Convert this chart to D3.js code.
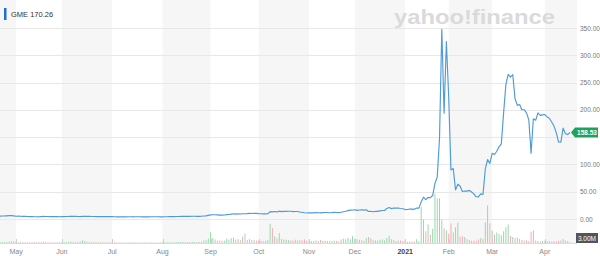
<!DOCTYPE html>
<html>
<head>
<meta charset="utf-8">
<script src="https://cdn.jsdelivr.net/npm/d3@7"></script>
<style>
body { margin: 0; background: #fff; }
text { font-family: "Liberation Sans", Arial, sans-serif; }
</style>
</head>
<body>
<script>
// GME daily chart, Apr 22 2020 - Apr 19 2021, one row per trading month.
// Labels of each month block (the first block is the end of April 2020).
var monthLabels = ["Apr", "May", "Jun", "Jul", "Aug", "Sep", "Oct", "Nov",
                   "Dec", "2021", "Feb", "Mar", "Apr"];

// Daily closes (USD)
var closes = [
    [5.33, 5.52, 5.60, 5.85, 6.10, 6.25, 5.69],
    [5.05, 5.16, 4.98, 4.86, 4.71, 4.65, 4.39, 4.29, 4.10, 4.21, 4.03, 4.39,
     4.75, 4.62, 4.50, 4.45, 4.26, 4.41, 4.52, 4.21],
    [4.34, 4.40, 4.58, 4.79, 5.10, 4.90, 4.80, 4.60, 4.45, 4.73, 4.91, 5.04,
     4.84, 4.57, 4.63, 4.44, 4.55, 4.41, 4.35, 4.30, 4.28, 4.34],
    [4.25, 4.06, 3.99, 3.92, 3.88, 3.93, 4.01, 4.13, 4.04, 3.98, 4.08, 4.17,
     4.10, 4.02, 4.06, 3.97, 3.95, 4.15, 4.08, 4.11, 4.04, 4.01],
    [4.03, 4.10, 4.19, 4.30, 4.38, 4.42, 4.49, 4.61, 4.70, 4.78, 4.69, 4.80,
     4.88, 4.96, 5.03, 4.84, 4.92, 5.07, 5.43, 5.72, 6.68],
    [7.65, 7.79, 7.73, 7.65, 7.21, 7.11, 7.31, 8.01, 8.32, 9.04, 9.71, 9.02,
     9.50, 9.13, 9.71, 9.67, 9.88, 10.19, 10.00, 10.23, 10.20],
    [9.77, 9.71, 9.36, 9.46, 9.64, 13.49, 13.01, 13.78, 13.12, 14.32, 13.42,
     13.92, 13.96, 14.26, 14.12, 13.60, 13.82, 13.82, 12.71, 12.40, 11.43,
     10.99],
    [11.10, 11.11, 11.34, 11.77, 11.37, 11.18, 11.69, 11.84, 11.99, 11.49,
     11.70, 12.03, 11.90, 11.68, 12.41, 13.33, 14.21, 15.41, 16.16, 16.56],
    [16.87, 15.80, 16.58, 16.90, 16.35, 16.94, 13.66, 14.12, 13.31, 13.85,
     13.90, 14.82, 15.53, 15.63, 19.38, 20.99, 19.04, 20.15, 20.01, 20.15,
     19.26, 18.84],
    [17.25, 17.37, 18.36, 18.08, 17.69, 19.94, 19.95, 31.40, 39.91, 35.50,
     39.36, 39.12, 43.03, 65.01, 76.79, 147.98, 347.51, 193.60, 325.00],
    [225.00, 90.00, 92.41, 53.50, 63.77, 60.00, 50.31, 51.20, 51.10, 52.40,
     49.51, 45.94, 40.69, 40.59, 46.00, 44.97, 91.71, 108.73, 101.74],
    [120.40, 118.18, 124.18, 132.35, 137.74, 194.50, 246.90, 265.00, 260.00,
     264.50, 220.14, 208.17, 209.81, 200.27, 200.27, 194.49, 181.75, 120.34,
     183.75, 181.00, 194.46, 189.82, 190.82],
    [191.45, 186.95, 184.50, 177.77, 170.26, 158.36, 141.09, 140.99, 166.53,
     156.44, 154.69, 158.53]
];

// Daily volume (millions of shares)
var volumes = [
    [3.5, 4.2, 2.9, 4.8, 5.6, 6.1, 7.3],
    [4.6, 3.1, 3.5, 2.9, 3.2, 2.6, 3.9, 2.8, 3.6, 3.1, 3.5, 3.9, 5.2, 3.8,
     2.7, 2.6, 2.8, 2.4, 2.9, 3.4],
    [3.0, 2.8, 3.5, 4.6, 5.4, 4.1, 3.6, 3.9, 5.9, 10.8, 7.5, 5.2, 4.1, 3.6,
     3.2, 3.0, 3.3, 2.9, 2.6, 2.8, 2.5, 2.9],
    [2.8, 3.1, 2.5, 2.3, 2.6, 2.2, 2.4, 2.9, 2.7, 2.3, 2.6, 3.0, 2.5, 2.4,
     2.6, 2.2, 2.1, 2.9, 2.4, 2.3, 2.2, 2.6],
    [2.5, 2.7, 2.9, 3.4, 3.2, 2.9, 3.5, 3.8, 4.2, 4.5, 3.6, 3.9, 4.1, 4.4,
     4.0, 3.5, 3.7, 4.6, 9.5, 11.2, 17.3],
    [43.0, 20.1, 13.7, 9.8, 10.2, 8.4, 9.5, 16.8, 14.2, 19.7, 22.5, 14.1,
     15.3, 11.2, 25.0, 38.0, 12.1, 15.4, 11.8, 10.6, 9.7],
    [9.5, 8.6, 7.9, 8.2, 12.4, 77.2, 60.0, 26.4, 18.5, 40.0, 16.4, 14.1,
     12.9, 11.6, 10.7, 9.8, 13.2, 9.9, 11.8, 10.4, 14.7, 9.1],
    [9.1, 8.0, 7.5, 10.3, 7.8, 12.2, 9.6, 8.8, 7.9, 8.6, 7.4, 9.7, 8.3, 6.9,
     14.5, 17.2, 15.6, 21.0, 14.8, 27.5],
    [18.2, 15.4, 12.7, 10.6, 9.2, 19.6, 24.0, 18.9, 11.6, 10.3, 9.8, 12.4,
     14.1, 10.5, 20.0, 28.5, 15.2, 12.7, 8.3, 9.6, 10.2, 6.9],
    [10.0, 4.9, 6.3, 6.2, 6.0, 14.9, 7.1, 144.5, 93.7, 46.9, 74.7, 33.5,
     57.1, 197.2, 177.9, 178.6, 93.4, 58.8, 50.6],
    [37.4, 78.2, 42.7, 62.4, 81.3, 25.7, 26.8, 23.7, 15.3, 12.3, 9.2, 8.8,
     9.1, 14.4, 19.5, 16.3, 83.1, 150.3, 79.0],
    [49.6, 33.1, 42.2, 35.9, 30.7, 47.0, 63.6, 74.0, 28.3, 24.1, 19.8, 22.1,
     16.5, 12.2, 10.3, 11.0, 7.7, 45.0, 50.0, 10.3, 8.3, 5.9, 8.3],
    [8.9, 8.3, 7.8, 5.1, 6.8, 6.3, 8.8, 10.1, 16.1, 9.9, 7.6, 3.0]
];

var priceTicks = [0, 50, 100, 150, 200, 250, 300, 350];
var headerText = "GME 170.26";
var lastVolumeText = "3.00M";

// Flatten month blocks into one list of trading days
var days = [];
var monthStarts = [];
closes.forEach(function(block, m) {
    monthStarts.push(days.length);
    block.forEach(function(c, i) {
        days.push({idx: days.length, month: m, close: c,
                   vol: volumes[m][i]});
    });
});
days.forEach(function(d, i) {
    d.up = i === 0 ? true : d.close >= days[i - 1].close;
});

var width = 600, height = 256;
var plotRight = 577;

var svg = d3.select("body").append("svg")
    .attr("width", width)
    .attr("height", height);

// Scales: x on trading-day index, y for price, v for volume
var xScale = d3.scaleLinear().domain([0, days.length - 1]).range([0, 570]);
var yScale = d3.scaleLinear().domain([0, 350]).range([219, 28]);
var vScale = d3.scaleLinear().domain([0, 200]).range([243, 193]);

var last = days[days.length - 1];
var ly = yScale(last.close);

// Alternating month bands
svg.append("g").selectAll("rect")
    .data(monthStarts)
    .enter()
    .append("rect")
    .attr("x", function(s) { return xScale(s); })
    .attr("y", 0)
    .attr("width", function(s, m) {
        var end = m < monthStarts.length - 1 ?
            xScale(monthStarts[m + 1]) : plotRight;
        return end - xScale(s);
    })
    .attr("height", 244)
    .attr("fill", function(s, m) { return m % 2 === 0 ? "#f6f6f6" : "#fff"; });

// Horizontal grid lines
svg.append("g").selectAll("line")
    .data(priceTicks)
    .enter()
    .append("line")
    .attr("x1", 0)
    .attr("x2", plotRight)
    .attr("y1", function(d) { return Math.round(yScale(d)) + 0.5; })
    .attr("y2", function(d) { return Math.round(yScale(d)) + 0.5; })
    .attr("stroke", "#e8e8e8")
    .attr("stroke-width", 1);

// Yahoo watermark
svg.append("text")
    .attr("x", 394)
    .attr("y", 24)
    .attr("textLength", 161)
    .attr("lengthAdjust", "spacingAndGlyphs")
    .attr("font-size", "21px")
    .attr("font-weight", "bold")
    .attr("fill", "#dadada")
    .text("yahoo!finance");

// Volume bars
svg.append("g").selectAll("rect")
    .data(days)
    .enter()
    .append("rect")
    .attr("x", function(d) { return xScale(d.idx) - 0.5; })
    .attr("y", function(d) { return vScale(d.vol); })
    .attr("width", 1)
    .attr("height", function(d) { return vScale(0) - vScale(d.vol); })
    .attr("fill", function(d) { return d.up ? "#9ad8ae" : "#f4adb7"; });

// X axis baseline and month ticks
svg.append("line")
    .attr("x1", 0).attr("x2", plotRight)
    .attr("y1", 243.5).attr("y2", 243.5)
    .attr("stroke", "#dcdcdc");

var ticks = monthStarts.slice(1);
svg.append("g").selectAll("line")
    .data(ticks)
    .enter()
    .append("line")
    .attr("x1", function(s) { return Math.round(xScale(s)) + 0.5; })
    .attr("x2", function(s) { return Math.round(xScale(s)) + 0.5; })
    .attr("y1", 239)
    .attr("y2", 244)
    .attr("stroke", "#d0d0d0");

svg.append("g").selectAll("text")
    .data(ticks)
    .enter()
    .append("text")
    .attr("x", function(s) { return xScale(s); })
    .attr("y", 254)
    .attr("text-anchor", "middle")
    .attr("font-size", "7px")
    .attr("fill", function(s, i) {
        return monthLabels[i + 1] === "2021" ? "#444" : "#888";
    })
    .attr("font-weight", function(s, i) {
        return monthLabels[i + 1] === "2021" ? "bold" : "normal";
    })
    .text(function(s, i) { return monthLabels[i + 1]; });

// Y axis labels on the right (the one under the price tag is covered)
svg.append("g").selectAll("text")
    .data(priceTicks.filter(function(d) {
        return Math.abs(yScale(d) - ly) > 8;
    }))
    .enter()
    .append("text")
    .attr("x", 580)
    .attr("y", function(d) { return yScale(d) + 2.5; })
    .attr("font-size", "6.5px")
    .attr("fill", "#777")
    .text(function(d) { return d3.format(".2f")(d); });

// Price line
var line = d3.line()
    .x(function(d) { return xScale(d.idx); })
    .y(function(d) { return yScale(d.close); });

svg.append("path")
    .datum(days)
    .attr("fill", "none")
    .attr("stroke", "#4f9ad8")
    .attr("stroke-width", 1.15)
    .attr("stroke-linejoin", "round")
    .attr("d", line);

// Last price tag
svg.append("path")
    .attr("d", "M" + (xScale(last.idx) + 1) + "," + ly +
         "L575," + (ly - 5) + "L598," + (ly - 5) +
         "L598," + (ly + 5) + "L575," + (ly + 5) + "Z")
    .attr("fill", "#1ea25a");
svg.append("text")
    .attr("x", 587)
    .attr("y", ly + 2.5)
    .attr("text-anchor", "middle")
    .attr("font-size", "6.5px")
    .attr("font-weight", "bold")
    .attr("fill", "#fff")
    .text(d3.format(".2f")(last.close));

// Last volume tag
svg.append("rect")
    .attr("x", 576).attr("y", 233)
    .attr("width", 22).attr("height", 10)
    .attr("fill", "#555");
svg.append("text")
    .attr("x", 587)
    .attr("y", 240.5)
    .attr("text-anchor", "middle")
    .attr("font-size", "6.5px")
    .attr("fill", "#fff")
    .text(lastVolumeText);

// Header: symbol and price
svg.append("rect")
    .attr("x", 4).attr("y", 8)
    .attr("width", 2.5).attr("height", 12)
    .attr("fill", "#1f6fd6");
svg.append("text")
    .attr("x", 11)
    .attr("y", 17)
    .attr("font-size", "7.5px")
    .attr("fill", "#333")
    .text(headerText);
</script>
</body>
</html>
